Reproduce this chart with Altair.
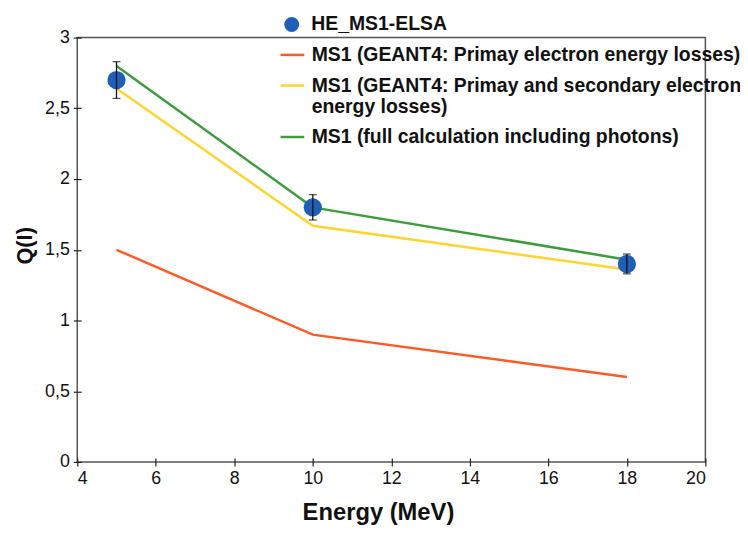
import altair as alt
import pandas as pd

# ---- data ----
energy = [5, 10, 18]
measured = [2.70, 1.80, 1.40]
err_lo = [2.57, 1.71, 1.33]
err_hi = [2.83, 1.89, 1.47]
primary = [1.50, 0.90, 0.60]
prim_sec = [2.64, 1.67, 1.36]
full_calc = [2.80, 1.80, 1.43]

meas_name = "HE_MS1-ELSA"
model_names = [
    "MS1 (GEANT4: Primay electron energy losses)",
    "MS1 (GEANT4: Primay and secondary electron energy losses)",
    "MS1 (full calculation including photons)",
]
model_values = [primary, prim_sec, full_calc]
model_colors = ["#ff5a28", "#ffd42e", "#3f9b3f"]
meas_color = "#1f5fb8"

x_ticks = list(range(4, 21))
y_ticks = [0, 0.25, 0.5, 0.75, 1, 1.25, 1.5, 1.75, 2, 2.25, 2.5, 2.75, 3]

# ---- tables ----
lines_df = pd.DataFrame(
    [
        {"series": name, "energy": e, "q": v, "idx": i}
        for name, vals in zip(model_names, model_values)
        for i, (e, v) in enumerate(zip(energy, vals))
    ]
)
meas_df = pd.DataFrame(
    {"series": meas_name, "energy": energy, "q": measured, "lo": err_lo, "hi": err_hi}
)
caps_df = pd.DataFrame(
    {"energy": energy + energy, "q": err_lo + err_hi}
)

font = "Liberation Sans"
legend_size = 19.6

x_scale = alt.Scale(domain=[4, 20], nice=False, zero=False)
y_scale = alt.Scale(domain=[0, 3], nice=False)

x_enc = alt.X(
    "energy:Q",
    scale=x_scale,
    axis=alt.Axis(
        title="Energy (MeV)",
        values=x_ticks,
        labelExpr="datum.value % 2 == 0 ? datum.label : ''",
        grid=False,
        domain=False,
        offset=-4,
        tickSize=8,
        tickColor="#222",
        tickWidth=1.2,
        labelPadding=4,
        labelFont=font,
        labelFontSize=18,
        labelColor="#111",
        titleFont=font,
        titleFontSize=24,
        titleFontWeight="bold",
        titleColor="#111",
        titleX=304,
        titleY=62,
        titleAlign="center",
        titleBaseline="alphabetic",
    ),
)
y_enc = alt.Y(
    "q:Q",
    scale=y_scale,
    axis=alt.Axis(
        title="Q(I)",
        values=y_ticks,
        labelExpr="datum.value % 0.5 == 0 ? replace(datum.label, '.', ',') : ''",
        format="~g",
        grid=False,
        domain=False,
        offset=-4,
        tickSize=8,
        tickColor="#222",
        tickWidth=1.2,
        labelPadding=4,
        labelFont=font,
        labelFontSize=18,
        labelColor="#111",
        titleFont=font,
        titleFontSize=22,
        titleFontWeight="bold",
        titleColor="#111",
        titleX=-57,
        titleY=210,
        titleAngle=-90,
        titleAlign="center",
        titleBaseline="middle",
    ),
)

wrap_expr = (
    "datum.label == '" + model_names[1] + "' ? "
    "['MS1 (GEANT4: Primay and secondary electron', 'energy losses)'] : datum.label"
)

lines = (
    alt.Chart(lines_df)
    .mark_line(strokeWidth=2.5)
    .encode(
        x=x_enc,
        y=y_enc,
        order="idx:Q",
        stroke=alt.Stroke(
            "series:N",
            scale=alt.Scale(domain=model_names, range=model_colors),
            legend=alt.Legend(
                title=None,
                orient="none",
                legendX=204,
                legendY=4,
                symbolType="stroke",
                symbolSize=576,
                symbolStrokeWidth=2.5,
                labelFont=font,
                labelFontWeight="bold",
                labelFontSize=legend_size,
                labelColor="#111",
                labelLimit=600,
                labelOffset=6,
                rowPadding=7,
                labelExpr=wrap_expr,
            ),
        ),
    )
)

points = (
    alt.Chart(meas_df)
    .mark_point(filled=True, size=340, opacity=1, strokeWidth=0)
    .encode(
        x="energy:Q",
        y="q:Q",
        fill=alt.Fill(
            "series:N",
            scale=alt.Scale(domain=[meas_name], range=[meas_color]),
            legend=alt.Legend(
                title=None,
                orient="none",
                legendX=207,
                legendY=-23,
                symbolType="circle",
                symbolSize=225,
                symbolStrokeWidth=0,
                labelFont=font,
                labelFontWeight="bold",
                labelFontSize=legend_size,
                labelColor="#111",
                labelLimit=600,
                labelOffset=10,
            ),
        ),
    )
)

bars = (
    alt.Chart(meas_df)
    .mark_rule(color="#111", strokeWidth=1.3)
    .encode(x="energy:Q", y="lo:Q", y2="hi:Q")
)

caps = (
    alt.Chart(caps_df)
    .mark_tick(color="#111", orient="horizontal", size=8, thickness=1.3)
    .encode(x="energy:Q", y="q:Q")
)

chart = (
    alt.layer(lines, points, bars, caps)
    .properties(
        width=635,
        height=429,
        autosize=alt.AutoSizeParams(type="none"),
        padding={"left": 70, "top": 27, "right": 35, "bottom": 79},
        background="white",
    )
    .configure_view(stroke="#555", strokeWidth=1.5)
)

chart.save("out.html", embed_options={"renderer": "svg", "actions": False})
